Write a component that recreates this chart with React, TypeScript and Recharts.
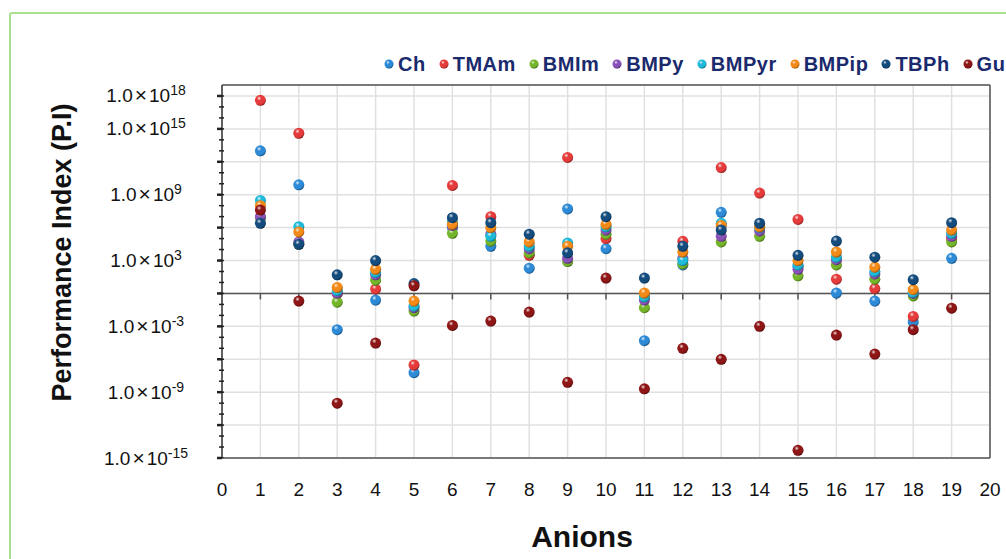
import React from 'react';
import { ScatterChart, Scatter, XAxis, YAxis, CartesianGrid, ReferenceLine } from 'recharts';

const FONT = '"Liberation Sans", Arial, Helvetica, sans-serif';

// anion index on the x axis
const anions = [1, 2, 3, 4, 5, 6, 7, 8, 9, 10, 11, 12, 13, 14, 15, 16, 17, 18, 19];

// performance index per cation, one value per anion
const ch = [1e13, 8e9, 5e-4, 0.25, 6e-8, 1e6, 2e4, 2e2, 5e7, 1.2e4, 5e-5, 4e2, 2.5e7, 1e6, 3e2, 1.1, 0.2, 2.5e-3, 1.6e3];
const tmam = [4e17, 4e14, 1, 2.5, 3e-7, 7e9, 1e7, 3e3, 2.5e12, 1e5, 0.5, 5.6e4, 3e11, 1.4e9, 5.6e6, 20, 2.8, 8e-3, 1e5];
const bmim = [8e6, 3e4, 0.16, 16, 0.025, 3e5, 6e4, 5e3, 8e2, 2.5e5, 0.05, 5e2, 5e4, 1.6e5, 40, 4e2, 20, 0.6, 5e4];
const bmpy = [1e7, 5e4, 1.1, 50, 0.05, 1.6e6, 2.5e5, 1.2e4, 1.6e3, 6e5, 0.25, 1.6e3, 1.6e5, 5e5, 1.6e2, 1.2e3, 60, 1, 1.6e5];
const bmpyr = [3e8, 1.2e6, 1.8, 80, 0.07, 3e6, 1.6e5, 2e4, 4e4, 1.2e6, 0.5, 1e3, 2.5e6, 1e6, 4e2, 2e3, 1e2, 1.25, 3e5];
const bmpip = [1e8, 4e5, 3.5, 1.6e2, 0.2, 2e6, 1e6, 5e4, 2e4, 2e6, 1.1, 6e3, 1.6e6, 1.2e6, 1e3, 6e3, 2.5e2, 2.2, 6e5];
const tbph = [2.5e6, 3e4, 50, 1e3, 8, 8e6, 2.8e6, 2.5e5, 5e3, 1e7, 25, 2e4, 6e5, 2.5e6, 3e3, 6e4, 2e3, 18, 2.8e6];
const gu = [4e7, 0.2, 1e-10, 3e-5, 5, 1.2e-3, 3e-3, 0.02, 8e-9, 25, 2e-9, 1e-5, 1e-6, 1e-3, 5e-15, 1.6e-4, 3e-6, 5e-4, 0.045];

const xTicks = [0, 1, 2, 3, 4, 5, 6, 7, 8, 9, 10, 11, 12, 13, 14, 15, 16, 17, 18, 19, 20];
const yTicks = [1e-15, 1e-12, 1e-9, 1e-6, 1e-3, 1, 1e3, 1e6, 1e9, 1e12, 1e15, 1e18];
const yLabelled = [1e-15, 1e-9, 1e-3, 1e3, 1e9, 1e15, 1e18];
const yMinor = [
  1e-15, 1e-14, 1e-13, 1e-12, 1e-11, 1e-10, 1e-9, 1e-8, 1e-7, 1e-6, 1e-5, 1e-4, 1e-3, 1e-2, 1e-1, 1,
  1e1, 1e2, 1e3, 1e4, 1e5, 1e6, 1e7, 1e8, 1e9, 1e10, 1e11, 1e12, 1e13, 1e14, 1e15, 1e16, 1e17, 1e18,
];

const SERIES = [
  { name: 'Ch', values: ch, color: '#2C8AD6' },
  { name: 'TMAm', values: tmam, color: '#E53B3B' },
  { name: 'BMIm', values: bmim, color: '#74B52A' },
  { name: 'BMPy', values: bmpy, color: '#8A52B8' },
  { name: 'BMPyr', values: bmpyr, color: '#1FB9DA' },
  { name: 'BMPip', values: bmpip, color: '#F38A17' },
  { name: 'TBPh', values: tbph, color: '#154C7E' },
  { name: 'Gu', values: gu, color: '#8E1616' },
];

function Sphere({ cx, cy, color, r = 5.5 }: { cx: number; cy: number; color: string; r?: number }) {
  return (
    <g>
      <defs>
        <radialGradient id="sphereShade" cx="38%" cy="32%" r="70%">
          <stop offset="0%" stopColor="#ffffff" stopOpacity={0.85} />
          <stop offset="30%" stopColor="#ffffff" stopOpacity={0} />
          <stop offset="75%" stopColor="#000000" stopOpacity={0} />
          <stop offset="100%" stopColor="#000000" stopOpacity={0.4} />
        </radialGradient>
      </defs>
      <circle cx={cx} cy={cy} r={r} fill={color} />
      <circle cx={cx} cy={cy} r={r} fill="url(#sphereShade)" />
    </g>
  );
}

function YTick(props: any) {
  const { x, y, payload } = props;
  if (!yLabelled.includes(payload.value)) return <g />;
  const exp = Math.round(Math.log10(payload.value));
  return (
    <text x={x - 71} y={y + 6.5} textAnchor="middle" fontSize={19} fill="#111" fontFamily={FONT}>
      <tspan>1.0</tspan>
      <tspan dx={2} fontSize={21}>×</tspan>
      <tspan dx={2}>10</tspan>
      <tspan dy={-7} fontSize={14}>{exp}</tspan>
    </text>
  );
}

function XTick(props: any) {
  const { x, y, payload } = props;
  return (
    <text x={x} y={y + 38} textAnchor="middle" fontSize={19} fill="#111" fontFamily={FONT}>
      {payload.value}
    </text>
  );
}

export default function App() {
  return (
    <div style={{ position: 'absolute', left: 0, top: 0, width: 1006, height: 559, overflow: 'hidden', background: '#fff' }}>
      <div
        style={{
          position: 'absolute', left: 9, top: 12, width: 1100, height: 700,
          border: '2.5px solid #A9E08E', borderRadius: 3,
        }}
      />
      <ScatterChart width={1006} height={559} margin={{ top: 85, right: 16, bottom: 41, left: 92 }}>
        <CartesianGrid stroke="#E0E0E0" strokeWidth={1.5} />
        <XAxis
          type="number"
          dataKey="x"
          domain={[0, 20]}
          ticks={xTicks}
          interval={0}
          height={60}
          tickSize={0}
          tickMargin={0}
          tickLine={false}
          axisLine={{ stroke: '#555', strokeWidth: 1.5 }}
          tick={<XTick />}
          label={{
            content: (p: any) => {
              const vb = p.viewBox || { x: 222, y: 458, width: 768 };
              return (
                <text x={vb.x + vb.width / 2 - 24} y={547} textAnchor="middle" fontSize={30} fontWeight={700} fill="#111" fontFamily={FONT}>
                  Anions
                </text>
              );
            },
          }}
        />
        <YAxis
          type="number"
          dataKey="y"
          scale="log"
          domain={[1e-15, 1e19]}
          allowDataOverflow
          ticks={yTicks}
          interval={0}
          width={130}
          tickSize={5}
          tickMargin={0}
          tickLine={{ stroke: '#222', strokeWidth: 2.5 }}
          axisLine={{ stroke: '#333', strokeWidth: 1.5 }}
          tick={<YTick />}
          label={{
            content: (p: any) => {
              const vb = p.viewBox || { x: 92, y: 85, height: 373 };
              const cx = 62;
              const cy = vb.y + vb.height / 2 - 19;
              return (
                <text x={cx} y={cy} transform={`rotate(-90 ${cx} ${cy})`} textAnchor="middle" dominantBaseline="central" fontSize={27} fontWeight={700} fill="#111" fontFamily={FONT}>
                  Performance Index (P.I)
                </text>
              );
            },
          }}
        />
        <ReferenceLine x={20} stroke="#555" strokeWidth={1.5} />
        <ReferenceLine y={1e19} stroke="#555" strokeWidth={1.5} />
        <ReferenceLine y={1} stroke="#555" strokeWidth={1.5} />
        <Scatter
          name="xmarks"
          data={anions.map((a) => ({ x: a, y: 1 }))}
          isAnimationActive={false}
          legendType="none"
          shape={(p: any) => <line x1={p.cx} y1={p.cy} x2={p.cx} y2={p.cy + 6} stroke="#555" strokeWidth={1.5} />}
        />
        <Scatter
          name="ymarks"
          data={yMinor.map((v) => ({ x: 0, y: v }))}
          isAnimationActive={false}
          legendType="none"
          shape={(p: any) => <line x1={p.cx - 3} y1={p.cy} x2={p.cx + 2} y2={p.cy} stroke="#222" strokeWidth={1.5} />}
        />
        {SERIES.map((s) => (
          <Scatter
            key={s.name}
            name={s.name}
            data={anions.map((a, i) => ({ x: a, y: s.values[i] }))}
            isAnimationActive={false}
            shape={(p: any) => <Sphere cx={p.cx} cy={p.cy} color={s.color} />}
          />
        ))}
      </ScatterChart>
      <div
        style={{
          position: 'absolute', left: 384, top: 54, display: 'flex', alignItems: 'center', whiteSpace: 'nowrap',
          fontFamily: FONT, fontWeight: 700, fontSize: 20, lineHeight: '20px', color: '#1A2A6C', letterSpacing: 0.5,
        }}
      >
        {SERIES.map((s) => (
          <span key={s.name} style={{ display: 'inline-flex', alignItems: 'center', marginRight: 13 }}>
            <svg width={10} height={10} style={{ marginRight: 4 }}>
              <Sphere cx={5} cy={5} r={4.5} color={s.color} />
            </svg>
            {s.name}
          </span>
        ))}
      </div>
    </div>
  );
}
